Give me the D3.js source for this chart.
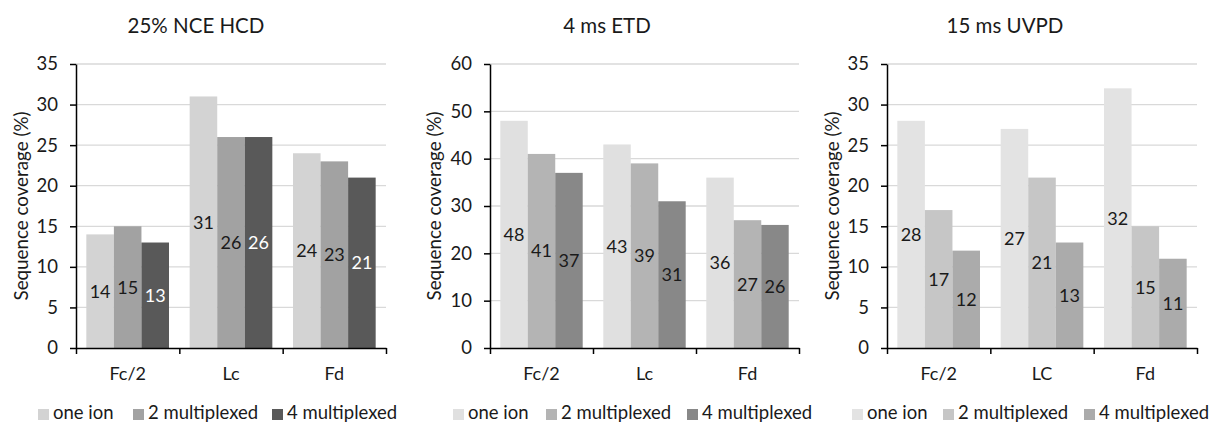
<!DOCTYPE html>
<html><head><meta charset="utf-8">
<script src="https://cdn.jsdelivr.net/npm/d3@7"></script>
<style>
html,body{margin:0;padding:0;background:#fff;}
text{font-family:Lato, "Open Sans", sans-serif;}
</style></head>
<body><svg id="chart" width="1211" height="423"></svg>
<script>
const seriesNames = ["one ion", "2 multiplexed", "4 multiplexed"];
const catsHCD = ["Fc/2", "Lc", "Fd"];
const catsETD = ["Fc/2", "Lc", "Fd"];
const catsUVPD = ["Fc/2", "LC", "Fd"];
const hcdOne = [14, 31, 24];
const hcdTwo = [15, 26, 23];
const hcdFour = [13, 26, 21];
const etdOne = [48, 43, 36];
const etdTwo = [41, 39, 27];
const etdFour = [37, 31, 26];
const uvpdOne = [28, 27, 32];
const uvpdTwo = [17, 21, 15];
const uvpdFour = [12, 13, 11];
const titles = ["25% NCE HCD", "4 ms ETD", "15 ms UVPD"];
const yMax = [35, 60, 35];
const yStep = [5, 10, 5];

const panels = [
  {title: titles[0], cats: catsHCD, vals: [hcdOne, hcdTwo, hcdFour], ymax: yMax[0], step: yStep[0],
   colors: ["#d3d3d3", "#a2a2a2", "#595959"], labelColors: ["#1a1a1a", "#1a1a1a", "#ffffff"],
   x0: 76, x1: 386, titleX: 196, yTitleX: 21, legend: [53, 148, 287]},
  {title: titles[1], cats: catsETD, vals: [etdOne, etdTwo, etdFour], ymax: yMax[1], step: yStep[1],
   colors: ["#e0e0e0", "#b4b4b4", "#888888"], labelColors: ["#1a1a1a", "#1a1a1a", "#1a1a1a"],
   x0: 490, x1: 799, titleX: 607, yTitleX: 434, legend: [468, 561, 702]},
  {title: titles[2], cats: catsUVPD, vals: [uvpdOne, uvpdTwo, uvpdFour], ymax: yMax[2], step: yStep[2],
   colors: ["#e3e3e3", "#c6c6c6", "#ababab"], labelColors: ["#1a1a1a", "#1a1a1a", "#1a1a1a"],
   x0: 887, x1: 1197, titleX: 1005, yTitleX: 832, legend: [867, 958, 1099]}
];

const svg = d3.select("#chart");
const yTop = 64, yBot = 348;

panels.forEach(p => {
  const g = svg.append("g");
  const y = d3.scaleLinear().domain([0, p.ymax]).range([yBot, yTop]);
  const x = d3.scaleBand().domain(p.cats).range([p.x0, p.x1]).paddingInner(0).paddingOuter(0);
  const bw = x.bandwidth() / 3.75;
  const xs = d3.scaleBand().domain(seriesNames).range([bw * 0.375, bw * 3.375]).padding(0);
  const ticks = d3.range(0, p.ymax + 0.001, p.step);

  // gridlines
  g.append("g").selectAll("line").data(ticks.filter(t => t > 0)).join("line")
    .attr("x1", p.x0).attr("x2", p.x1).attr("y1", d => y(d)).attr("y2", d => y(d))
    .attr("stroke", "#d9d9d9").attr("stroke-width", 1.3);

  // bars
  seriesNames.forEach((s, si) => {
    const vals = p.vals[si];
    g.append("g").selectAll("rect").data(p.cats).join("rect")
      .attr("x", (c) => x(c) + xs(s)).attr("width", xs.bandwidth())
      .attr("y", (c, i) => y(vals[i])).attr("height", (c, i) => yBot - y(vals[i]))
      .attr("fill", p.colors[si]);
    g.append("g").selectAll("text").data(p.cats).join("text")
      .attr("x", (c) => x(c) + xs(s) + xs.bandwidth() / 2)
      .attr("y", (c, i) => (y(vals[i]) + yBot) / 2)
      .attr("dy", "0.36em").attr("text-anchor", "middle")
      .attr("font-size", 18).attr("fill", p.labelColors[si])
      .text((c, i) => vals[i]);
  });

  // y axis
  const ya = g.append("g").attr("transform", `translate(${p.x0},0)`)
    .call(d3.axisLeft(y).tickValues(ticks).tickSize(6).tickSizeOuter(0).tickPadding(12).tickFormat(d3.format("d")));
  ya.select(".domain").attr("stroke", "#000").attr("stroke-width", 1.5);
  ya.selectAll(".tick line").attr("stroke", "#000").attr("stroke-width", 1.5);
  ya.selectAll(".tick text").attr("font-size", 18.5).attr("fill", "#1a1a1a").style("font-family", "Lato");

  // x axis ticks at boundaries
  const xl = d3.scaleLinear().domain([0, 3]).range([p.x0, p.x1]);
  const xa = g.append("g").attr("transform", `translate(0,${yBot})`)
    .call(d3.axisBottom(xl).tickValues([0, 1, 2, 3]).tickSize(6).tickSizeOuter(0).tickFormat(""));
  xa.select(".domain").attr("stroke", "#000").attr("stroke-width", 1.5);
  xa.selectAll(".tick line").attr("stroke", "#000").attr("stroke-width", 1.5);
  const xb = g.append("g").attr("transform", `translate(0,${yBot})`)
    .call(d3.axisBottom(x).tickSize(0).tickPadding(19));
  xb.select(".domain").remove();
  xb.selectAll(".tick text").attr("font-size", 18).attr("fill", "#1a1a1a").style("font-family", "Lato");

  // title
  g.append("text").attr("x", p.titleX).attr("y", 33).attr("text-anchor", "middle")
    .attr("font-size", 20.5).attr("fill", "#1a1a1a").text(p.title);
  // y title
  g.append("text").attr("transform", `translate(${p.yTitleX},${(yTop + yBot) / 2}) rotate(-90)`)
    .attr("dy", "0.35em").attr("text-anchor", "middle").attr("font-size", 18.8).attr("fill", "#1a1a1a")
    .text("Sequence coverage (%)");

  // legend
  seriesNames.forEach((s, si) => {
    g.append("rect").attr("x", p.legend[si] - 15).attr("y", 409).attr("width", 11).attr("height", 11)
      .attr("fill", p.colors[si]);
    g.append("text").attr("x", p.legend[si]).attr("y", 419).attr("font-size", 18.5)
      .attr("fill", "#1a1a1a").text(s);
  });
});
</script></body></html>
